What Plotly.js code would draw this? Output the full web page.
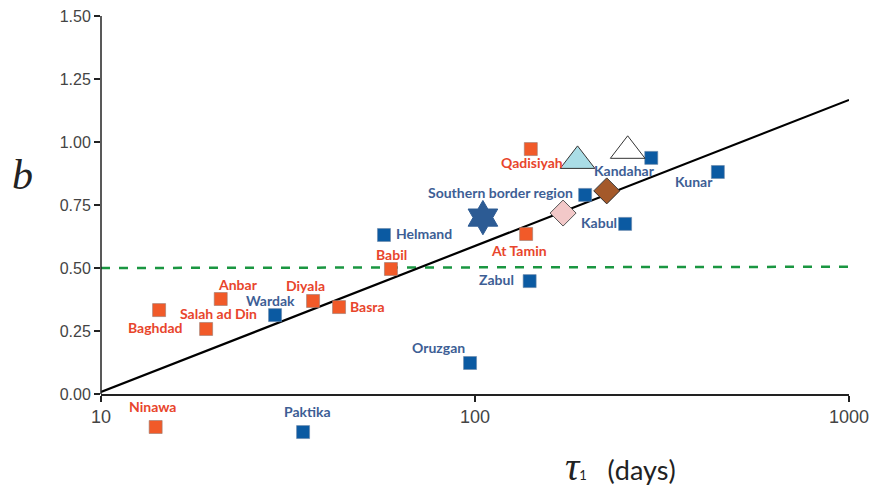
<!DOCTYPE html>
<html>
<head>
<meta charset="utf-8">
<script src="https://cdn.plot.ly/plotly-3.0.1.min.js"></script>
<style>html,body{margin:0;padding:0;background:#fff;}#chart{width:884px;height:488px;}</style>
</head>
<body>
<div id="chart"></div>
<script>
// ---- data ----
const iraqNames = ['Ninawa','Baghdad','Salah ad Din','Anbar','Diyala','Basra','Babil','At Tamin','Qadisiyah'];
const iraqTau   = [14.0, 14.3, 19.1, 20.9, 36.9, 43.3, 59.6, 137, 141];
const iraqB     = [-0.131, 0.333, 0.258, 0.377, 0.369, 0.345, 0.496, 0.635, 0.972];

const afgNames = ['Paktika','Wardak','Helmand','Oruzgan','Zabul','Southern border region','Kabul','Kandahar','Kunar'];
const afgTau   = [34.7, 29.2, 57.1, 97.0, 140, 197, 252, 296, 446];
const afgB     = [-0.151, 0.313, 0.631, 0.123, 0.448, 0.790, 0.675, 0.937, 0.881];

const starTau = [105];  const starB = [0.700];
const pinkTau = [172];  const pinkB = [0.718];
const brownTau = [225]; const brownB = [0.806];
const lightTriTau = [188]; const lightTriB = [0.925];
const whiteTriTau = [256]; const whiteTriB = [0.965];

const fitTau = [10, 1000];   const fitB = [0.008, 1.167];
const threshTau = [10, 1000]; const threshB = [0.5, 0.505];

const yTicks = [0, 0.25, 0.5, 0.75, 1.0, 1.25, 1.5];
const yTickText = ['0.00','0.25','0.50','0.75','1.00','1.25','1.50'];
const xTicks = [10, 100, 1000];
const xTickText = ['10','100','1000'];

// ---- label offsets (px, text centre relative to marker) ----
const labelOffsets = {
  'Ninawa':[-3,-21],'Baghdad':[-4,17],'Salah ad Din':[12,-15],'Anbar':[17,-15],
  'Diyala':[-8,-16],'Basra':[28,-1],'Babil':[1,-15],'At Tamin':[-7,17],'Qadisiyah':[1,13],
  'Paktika':[4,-21],'Wardak':[-5,-15],'Helmand':[40,-1],'Oruzgan':[-32,-16],'Zabul':[-33,-2],
  'Southern border region':[-85,-2],'Kabul':[-26,-1],'Kandahar':[-27,13],'Kunar':[-24,10]
};

const orange = '#f15a29', orangeText = '#e8452c';
const blue = '#0b5aa2', blueText = '#3d5e95';

// ---- geometry ----
const W = 884, H = 488, ML = 101, MR = 35, MT = 16, MB = 44;
const plotH = H - MT - MB;            // px
const yTop = 1.5, pxPerUnit = 252;
const yMin = yTop - plotH / pxPerUnit; // extend below 0 so off-axis points show
const zeroPos = (0 - yMin) / (yTop - yMin);
const plotW = W - ML - MR;
const px2x = px => (px - ML) / plotW;
const py2y = py => (H - MB - py) / plotH;

const traces = [
  {x: threshTau, y: threshB, mode:'lines', line:{color:'#1a9641', width:2.5, dash:'dash'}, hoverinfo:'skip'},
  {x: fitTau, y: fitB, mode:'lines', line:{color:'#000', width:2.2}, hoverinfo:'skip'},
  {x: iraqTau, y: iraqB, mode:'markers', cliponaxis:false,
   marker:{symbol:'square', size:13, color:orange, line:{color:'#9a7a70', width:0.6}}},
  {x: afgTau, y: afgB, mode:'markers', cliponaxis:false,
   marker:{symbol:'square', size:13, color:blue, line:{color:'#6a86a8', width:0.6}}},
  {x: starTau, y: starB, mode:'markers', marker:{symbol:'hexagram', size:26, color:'#2c5b94', line:{color:'#2c5b94', width:1}}},
  {x: pinkTau, y: pinkB, mode:'markers', marker:{symbol:'diamond', size:20, color:'#f2c8c8', line:{color:'#555', width:1}}},
  {x: brownTau, y: brownB, mode:'markers', marker:{symbol:'diamond', size:20, color:'#a4592a', line:{color:'#333', width:1}}},
  {x: lightTriTau, y: lightTriB, mode:'markers', marker:{symbol:'triangle-up', size:30, color:'#aadde6', line:{color:'#333', width:1}}},
  {x: whiteTriTau, y: whiteTriB, mode:'markers', marker:{symbol:'triangle-up', size:30, color:'#ffffff', line:{color:'#333', width:1}}}
];

const annotations = [];
function addLabels(names, xs, ys, color){
  names.forEach((n,i)=>{
    const off = labelOffsets[n];
    annotations.push({x: Math.log10(xs[i]), y: ys[i], xref:'x', yref:'y', text: n, showarrow:false,
      xshift: off[0], yshift: -off[1], xanchor:'center', yanchor:'middle',
      font:{family:'Lato, "Open Sans", sans-serif', size:14, color: color, weight:700}});
  });
}
addLabels(iraqNames, iraqTau, iraqB, orangeText);
addLabels(afgNames, afgTau, afgB, blueText);

annotations.push({xref:'paper', yref:'paper', x:px2x(22), y:py2y(175), xanchor:'center', yanchor:'middle',
  text:'<i>b</i>', showarrow:false,
  font:{family:'"Liberation Serif", "DejaVu Serif", serif', size:42, color:'#222'}});
annotations.push({xref:'paper', yref:'paper', x:px2x(620), y:py2y(466), xanchor:'center', yanchor:'middle', showarrow:false,
  text:'<span style="font-family:\'Liberation Serif\', serif; font-size:40px;"><i>τ</i></span><span style="font-size:13px;">1</span>   (days)',
  font:{family:'Lato, "Open Sans", sans-serif', size:27, color:'#222'}});

const layout = {
  width:W, height:H,
  margin:{l:ML, r:MR, t:MT, b:MB, pad:0},
  paper_bgcolor:'#fff', plot_bgcolor:'#fff',
  showlegend:false,
  font:{family:'"Liberation Sans", Arial, sans-serif', color:'#444'},
  xaxis:{type:'log', range:[1, 3], tickvals:xTicks, ticktext:xTickText, showgrid:false, zeroline:false,
         anchor:'free', position: zeroPos,
         showline:true, linecolor:'#222', linewidth:1.5, ticks:'outside', ticklen:6, tickcolor:'#222', tickwidth:1.5,
         tickfont:{size:18, color:'#444'}},
  yaxis:{range:[yMin, yTop], tickvals:yTicks, ticktext:yTickText, showgrid:false, zeroline:false,
         showline:false, ticks:'outside', ticklen:6, tickcolor:'#222', tickwidth:1.5,
         tickfont:{size:16, color:'#444'}},
  shapes:[{type:'line', xref:'paper', yref:'y', x0:0, x1:0, y0:0, y1:yTop, line:{color:'#222', width:1.5}}],
  annotations: annotations
};

Plotly.newPlot('chart', traces, layout, {displayModeBar:false, staticPlot:true});
</script>
</body>
</html>
